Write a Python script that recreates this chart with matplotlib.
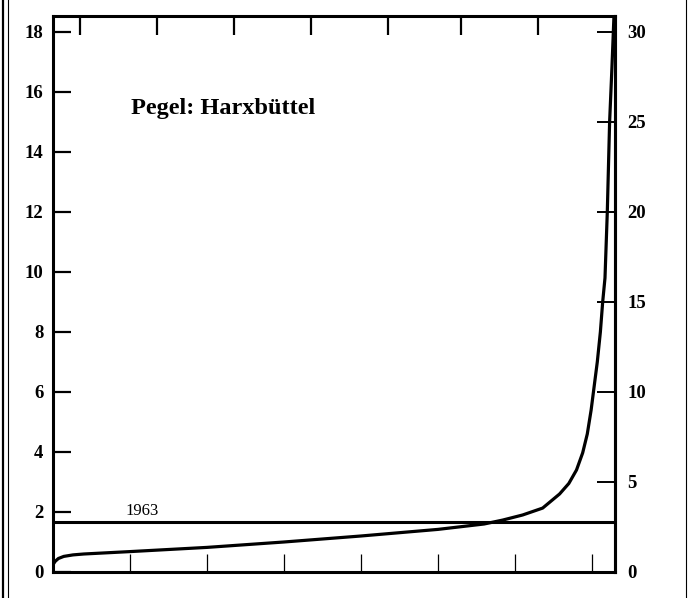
import matplotlib
matplotlib.use("Agg")
import matplotlib.pyplot as plt
from matplotlib.lines import Line2D

# Dauerlinie, Pegel Harxbuettel (Tage im Jahr gegen Abfluss)
days = [0, 1.5, 3.5, 7, 13, 20, 50, 100, 150, 200, 250, 280, 292, 305, 318,
        329, 335, 340, 344, 347, 349.5, 351.5, 353.5, 355.5, 357, 358.5, 360,
        361.5, 363, 364.3]
flow = [0.25, 0.36, 0.45, 0.52, 0.57, 0.6, 0.68, 0.82, 1.0, 1.2, 1.42, 1.6,
        1.73, 1.9, 2.13, 2.6, 2.95, 3.4, 3.97, 4.6, 5.4, 6.2, 7.0, 8.0, 9.0,
        9.8, 12.0, 15.0, 16.8, 18.5]
level_1963 = 1.65
label_1963 = "1963"
title = "Pegel: Harxbüttel"

left_ticks = [0, 2, 4, 6, 8, 10, 12, 14, 16, 18]
right_ticks = [0, 5, 10, 15, 20, 25, 30]
bottom_ticks = [50, 100, 150, 200, 250, 300, 350]
top_ticks = [17.5, 67.5, 117.5, 167.5, 217.5, 265, 315]

ymax = 18.53
scale = 30 / 18.0
serif = "Liberation Serif"

fig = plt.figure(figsize=(6.89, 5.98), dpi=100)
ax = fig.add_axes([53 / 689, 26 / 598, 562 / 689, 556 / 598])

ax.plot(days, flow, color="black", lw=2.3, solid_capstyle="butt",
        solid_joinstyle="round")
ax.axhline(level_1963, color="black", lw=2.2)
ax.text(58, level_1963 + 0.12, label_1963, ha="center", va="bottom",
        family=serif, fontsize=12)
ax.text(50.5, 15.45, title, ha="left", va="center",
        family=serif, fontweight="bold", fontsize=17.5)

ax.set_xlim(0, 365)
ax.set_ylim(0, ymax)
for s in ax.spines.values():
    s.set_linewidth(2.2)

ax.set_yticks(left_ticks)
ax.set_yticklabels([str(t) for t in left_ticks],
                   family=serif, fontweight="bold", fontsize=13.5)
ax.tick_params(axis="y", which="both", direction="in", length=13, width=1.6,
               pad=7, left=True, right=False)

# unten Hauptstriche, oben versetzte Nebenstriche
ax.set_xticks(bottom_ticks)
ax.set_xticks(top_ticks, minor=True)
ax.tick_params(axis="x", which="major", direction="in", length=13, width=0.9,
               bottom=True, top=False, labelbottom=False)
ax.tick_params(axis="x", which="minor", direction="in", length=14, width=1.6,
               bottom=False, top=True, labeltop=False)

# rechte Skala
right = ax.secondary_yaxis("right", functions=(lambda q: q * scale,
                                                lambda q: q / scale))
right.set_yticks(right_ticks)
right.set_yticklabels([str(t) for t in right_ticks],
                      family=serif, fontweight="bold", fontsize=13.5)
right.tick_params(direction="in", length=13, width=1.4, pad=9)
right.spines["right"].set_linewidth(2.2)

# Rahmen um die Abbildung
fig.add_artist(Line2D([3 / 689, 3 / 689], [0, 1], color="black", lw=1.6,
                      transform=fig.transFigure))
fig.add_artist(Line2D([7.5 / 689, 7.5 / 689], [0, 1], color="black", lw=0.8,
                      transform=fig.transFigure))
fig.add_artist(Line2D([686 / 689, 686 / 689], [0, 1], color="black", lw=0.8,
                      transform=fig.transFigure))

fig.savefig("out.png", dpi=100)
